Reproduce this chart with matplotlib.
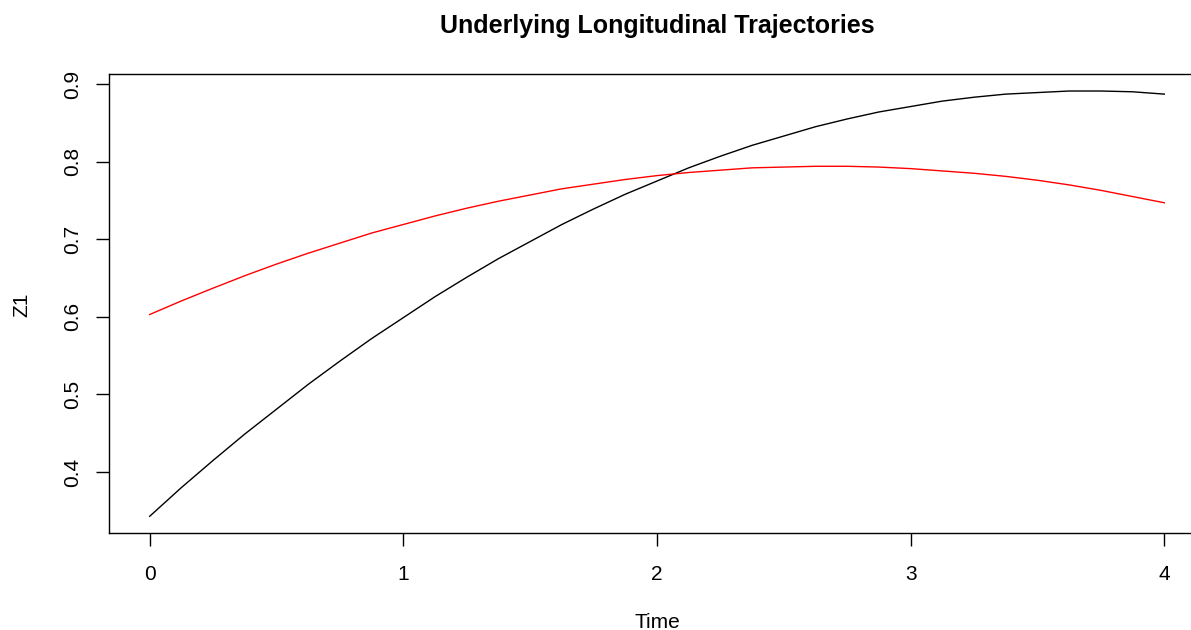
import matplotlib
matplotlib.use("Agg")
import matplotlib.pyplot as plt

plt.rcParams['font.family'] = ['Liberation Sans', 'DejaVu Sans']

time = [0, 0.125, 0.25, 0.375, 0.5, 0.625, 0.75, 0.875, 1, 1.125, 1.25, 1.375, 1.5, 1.625,
        1.75, 1.875, 2, 2.125, 2.25, 2.375, 2.5, 2.625, 2.75, 2.875, 3, 3.125, 3.25, 3.375,
        3.5, 3.625, 3.75, 3.875, 4]
z1_black = [0.343, 0.380, 0.415, 0.449, 0.481, 0.513, 0.543, 0.572, 0.599, 0.626, 0.651,
            0.675, 0.697, 0.719, 0.739, 0.758, 0.775, 0.792, 0.807, 0.821, 0.833, 0.845,
            0.855, 0.864, 0.871, 0.878, 0.883, 0.887, 0.889, 0.891, 0.891, 0.890, 0.887]
z1_red = [0.603, 0.6205, 0.637, 0.653, 0.668, 0.682, 0.695, 0.708, 0.719, 0.730, 0.740,
          0.749, 0.757, 0.765, 0.771, 0.777, 0.782, 0.786, 0.789, 0.792, 0.793, 0.794,
          0.794, 0.793, 0.791, 0.788, 0.785, 0.781, 0.776, 0.770, 0.763, 0.755, 0.747]
xticks = [0, 1, 2, 3, 4]
yticks = [0.4, 0.5, 0.6, 0.7, 0.8, 0.9]

W, H = 1191, 630
fig = plt.figure(figsize=(W / 100, H / 100), dpi=100)
left, right, top, bottom = 109.1, 1204.9, 74.0, 533.3
ax = fig.add_axes([left / W, 1 - bottom / H, (right - left) / W, (bottom - top) / H])

ax.plot(time, z1_black, color='black', lw=1.0)
ax.plot(time, z1_red, color='#ff0000', lw=1.0)

allv = z1_black + z1_red
lo, hi = min(allv), max(allv)
pad = 0.04 * (hi - lo)
ax.set_ylim(lo - pad, hi + pad)
ax.set_xlim(-0.16, 4.16)

ax.set_xticks(xticks)
ax.set_xticklabels([str(x) for x in xticks])
ax.set_yticks(yticks)
ax.set_yticklabels([f"{y:.1f}" for y in yticks], rotation=90, va='center')
ax.tick_params(direction='out', length=9.5, width=1.0, labelsize=15, colors='black')
ax.tick_params(axis='x', pad=13)
ax.tick_params(axis='y', pad=10)
ax.spines['right'].set_visible(False)
for s in ax.spines.values():
    s.set_linewidth(1.0)
    s.set_color('black')

fig.text(657 / W, 1 - 26 / H, "Underlying Longitudinal Trajectories",
         ha='center', va='center', fontsize=18, fontweight='bold')
fig.text(657 / W, 1 - 622 / H, "Time", ha='center', va='center', fontsize=15)
fig.text(22 / W, 1 - 305 / H, "Z1", ha='center', va='center', fontsize=15, rotation=90)

fig.savefig("out.png", dpi=100)
